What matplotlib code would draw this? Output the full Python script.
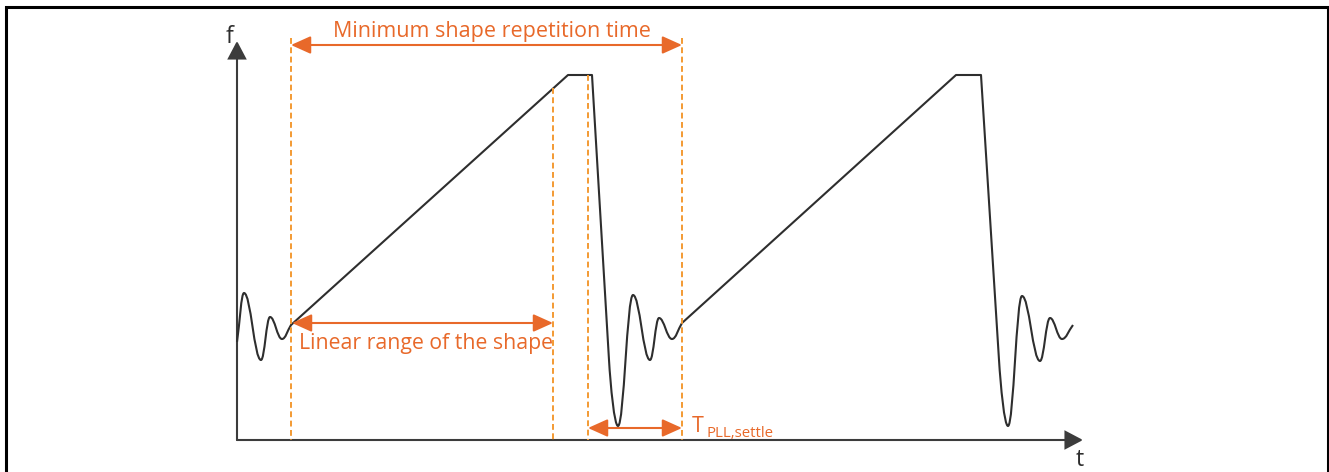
"""
Chirp shape timing sketch: linear ramp, fast return and PLL settling.

All coordinates are read from the reference drawing in pixels
(x to the right, y downwards), so the axes simply map 1:1 to the canvas.
"""

import matplotlib.pyplot as plt
from matplotlib.patches import FancyArrowPatch, PathPatch
from matplotlib.path import Path

W, H = 1329, 472

# ----------------------------------------------------------------------
# Datos
# ----------------------------------------------------------------------

# ringing before the first ramp (extrema)
ring_in = [(237, 342), (244, 293), (261, 360), (270, 317), (282, 339), (291, 325)]
# ramp, flat top, fast return
ramp_1 = [(291, 325), (568, 75), (592, 75), (609, 360)]
ring_1 = [(609, 360), (618, 426), (633, 295), (650, 360), (659, 318), (672, 339), (682, 323)]
ramp_2 = [(682, 323), (956, 75), (981, 75), (999, 360)]
ring_2 = [(999, 360), (1008, 426), (1022, 296), (1040, 361), (1050, 318), (1062, 339), (1073, 325)]

# dashed guides: x and where they start
guide_x = [291, 553, 588, 682]
guide_top = [38, 88, 75, 38]

axis_origin = (237, 440)
axis_x_end = 1083
axis_y_end = 41

# dimension arrows: (x0, x1, y)
span_repetition = (291, 682, 45)
span_linear = (292, 553, 323)
span_settle = (588, 682, 428)

ORANGE = "#E8692A"
GUIDE = "#F39A33"
INK = "#2E2E2E"
AXIS = "#3C3C3C"
FONT = ["Open Sans", "DejaVu Sans"]


def ring_segments(pts, d_in=None, a=0.4):
    """Cubic Bezier pieces through extrema with flat tangents."""
    verts, codes = [], []
    n = len(pts)
    for i in range(n - 1):
        (x0, y0), (x1, y1) = pts[i], pts[i + 1]
        dx, dy = x1 - x0, y1 - y0
        if i == 0 and d_in is not None:
            ux, uy = d_in
            c1 = (x0 + a * dy * ux / uy, y0 + a * dy)
        elif i == 0:
            c1 = (x0 + a * dx, y0 + a * dy)
        else:
            c1 = (x0 + a * dx, y0)
        if i == n - 2:
            c2 = (x1 - a * dx, y1 - a * dy)
        else:
            c2 = (x1 - a * dx, y1)
        verts += [c1, c2, (x1, y1)]
        codes += [Path.CURVE4] * 3
    return verts, codes


def line_segments(pts):
    return list(pts[1:]), [Path.LINETO] * (len(pts) - 1)


def build_wave():
    verts, codes = [ring_in[0]], [Path.MOVETO]
    pieces = [
        ring_segments(ring_in),
        line_segments(ramp_1),
        ring_segments(ring_1, d_in=(ramp_1[-1][0] - ramp_1[-2][0], ramp_1[-1][1] - ramp_1[-2][1])),
        line_segments(ramp_2),
        ring_segments(ring_2, d_in=(ramp_2[-1][0] - ramp_2[-2][0], ramp_2[-1][1] - ramp_2[-2][1])),
    ]
    for v, c in pieces:
        verts += v
        codes += c
    return Path(verts, codes)


fig = plt.figure(figsize=(W / 100, H / 100), dpi=100)
ax = fig.add_axes([0, 0, 1, 1])
ax.set_xlim(0, W)
ax.set_ylim(H, 0)
ax.axis("off")

# frame (bottom edge is cut off in the original)
ax.plot([5.5, 5.5, 1327.5, 1327.5], [H + 5, 6.5, 6.5, H + 5], color="black", lw=2.2,
        solid_joinstyle="miter")

# axes with arrow heads
ox, oy = axis_origin
for end in [(axis_x_end, oy), (ox, axis_y_end)]:
    ax.add_patch(FancyArrowPatch((ox, oy), end, arrowstyle="-|>,head_length=11,head_width=5.8",
                                 mutation_scale=1, shrinkA=0, shrinkB=0, lw=1.5,
                                 color=AXIS, joinstyle="miter"))
ax.text(229, 37, "f", fontsize=16.5, color=INK, ha="center", va="center", family=FONT)
ax.text(1080, 460, "t", fontsize=16.5, color=INK, ha="center", va="center", family=FONT)

# dashed guides
for x, top in zip(guide_x, guide_top):
    ax.plot([x, x], [top, oy], color=GUIDE, lw=1.4, dashes=(3, 1.8))

# waveform
ax.add_patch(PathPatch(build_wave(), fill=False, lw=1.5, edgecolor=INK, joinstyle="round"))

# dimension arrows
for x0, x1, y in [span_repetition, span_linear, span_settle]:
    ax.add_patch(FancyArrowPatch((x0, y), (x1, y), arrowstyle="<|-|>,head_length=12,head_width=5.4",
                                 mutation_scale=1, shrinkA=0, shrinkB=0, lw=1.5, color=ORANGE))

ax.text(492, 31, "Minimum shape repetition time", fontsize=15.5, color=ORANGE,
        ha="center", va="center", family=FONT)
ax.text(299, 343, "Linear range of the shape", fontsize=15.3, color=ORANGE,
        ha="left", va="center", family=FONT)
ax.text(692, 432, "T", fontsize=15.5, color=ORANGE, ha="left", va="baseline", family=FONT)
ax.text(706, 437, "PLL,settle", fontsize=10.8, color=ORANGE, ha="left", va="baseline", family=FONT)

fig.savefig("out.png", dpi=100)
